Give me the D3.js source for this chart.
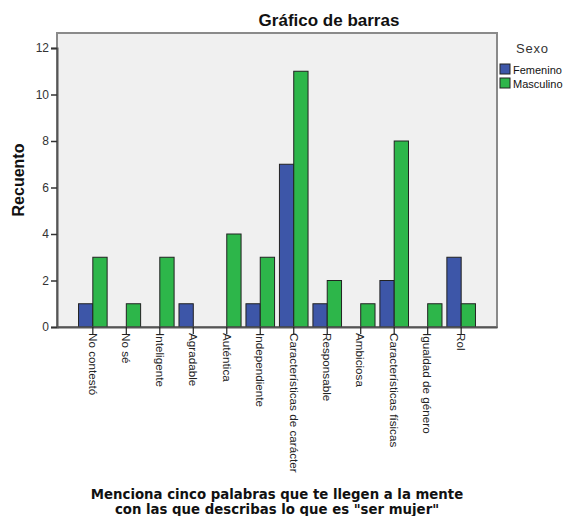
<!DOCTYPE html>
<html><head><meta charset="utf-8">
<script src="https://cdn.jsdelivr.net/npm/d3@7"></script>
<style>
html,body{margin:0;padding:0;background:#fff;}
svg{display:block;font-family:Arial,"Liberation Sans",sans-serif;}
</style></head>
<body>
<svg id="chart" width="566" height="516"></svg>
<script>
const categories = ["No contestó","No sé","Inteligente","Agradable","Auténtica","Independiente","Características de carácter","Responsable","Ambiciosa","Características físicas","Igualdad de género","Rol"];
const seriesNames = ["Femenino","Masculino"];
const femenino  = [1,0,0,1,0,1,7,1,0,2,0,3];
const masculino = [3,1,3,0,4,3,11,2,1,8,1,1];
const yTicks = [0,2,4,6,8,10,12];
const colors = ["#3d56a8","#2db64a"];

(function(){
const svg = d3.select("#chart");
const pL = 57, pR = 497, pT = 33, pB = 327;

const x = d3.scaleBand().domain(categories).range([pL, pR]).paddingInner(0).paddingOuter(0.57);
const y = d3.scaleLinear().domain([0, 12]).range([pB, 48]);
const pairW = 28.6;
const xs = d3.scaleBand().domain(seriesNames).range([0, pairW]).padding(0);

// plot background
svg.append("rect").attr("x", pL).attr("y", pT).attr("width", pR-pL).attr("height", pB-pT)
  .attr("fill", "#f0f0f0").attr("stroke", "#8a8a8a").attr("stroke-width", 2);

// bars
const data = [];
categories.forEach((c,i)=>{
  data.push({c, s:"Femenino", v:femenino[i], col:colors[0]});
  data.push({c, s:"Masculino", v:masculino[i], col:colors[1]});
});
svg.append("g").selectAll("rect").data(data.filter(d=>d.v>0)).join("rect")
  .attr("x", d => x(d.c) + x.bandwidth()/2 - pairW/2 + xs(d.s))
  .attr("y", d => y(d.v))
  .attr("width", xs.bandwidth())
  .attr("height", d => y(0) - y(d.v))
  .attr("fill", d => d.col)
  .attr("stroke", "#222").attr("stroke-width", 1);

// y axis
const yAxis = svg.append("g").attr("transform", `translate(${pL},0)`)
  .call(d3.axisLeft(y).tickValues(yTicks).tickSize(6).tickPadding(2).tickFormat(d3.format("d")));
yAxis.select(".domain").attr("stroke", "#555").attr("stroke-width", 2);
yAxis.selectAll(".tick line").attr("stroke", "#333").attr("stroke-width", 1.5);
yAxis.selectAll("text").attr("font-size", 12).attr("fill", "#333").attr("font-family", "Arial, Liberation Sans, sans-serif");

// x axis
const xAxis = svg.append("g").attr("transform", `translate(0,${pB})`)
  .call(d3.axisBottom(x).tickSize(7).tickPadding(0).tickSizeOuter(0));
xAxis.select(".domain").attr("stroke", "#555").attr("stroke-width", 2);
xAxis.selectAll(".tick line").attr("stroke", "#222").attr("stroke-width", 1.2);
xAxis.selectAll("text")
  .attr("font-size", 11.7).attr("fill", "#222").attr("font-family", "Arial, Liberation Sans, sans-serif")
  .attr("text-anchor", "start")
  .attr("transform", "translate(0,6) rotate(90)")
  .attr("x", 0).attr("y", 0).attr("dy", "0.36em");

// title
svg.append("text").attr("x", 329).attr("y", 26).attr("text-anchor", "middle")
  .attr("font-size", 17).attr("font-weight", "bold").attr("fill", "#111").text("Gráfico de barras");

// y title
svg.append("text").attr("transform", "translate(24,180) rotate(-90)").attr("text-anchor", "middle")
  .attr("font-size", 16).attr("font-weight", "bold").attr("fill", "#111").text("Recuento");

// x title
const xt = svg.append("text").attr("text-anchor", "middle").attr("font-size", 13.3).attr("font-weight", "bold")
  .attr("font-family", "'DejaVu Sans', Verdana, sans-serif").attr("fill", "#111");
xt.append("tspan").attr("x", 277).attr("y", 499).text("Menciona cinco palabras que te llegen a la mente");
xt.append("tspan").attr("x", 277).attr("y", 514).text("con las que describas lo que es \"ser mujer\"");

// legend
svg.append("text").attr("x", 516).attr("y", 53).attr("font-size", 13).attr("fill", "#333")
  .attr("letter-spacing", 0.8).text("Sexo");
const lg = svg.append("g").selectAll("g").data(seriesNames).join("g")
  .attr("transform", (d,i) => `translate(500,${64 + i*14})`);
lg.append("rect").attr("width", 10).attr("height", 10).attr("fill", (d,i)=>colors[i]).attr("stroke", "#222");
lg.append("text").attr("x", 13).attr("y", 9.5).attr("font-size", 11).attr("fill", "#111").text(d=>d);
})();
</script>
</body></html>
